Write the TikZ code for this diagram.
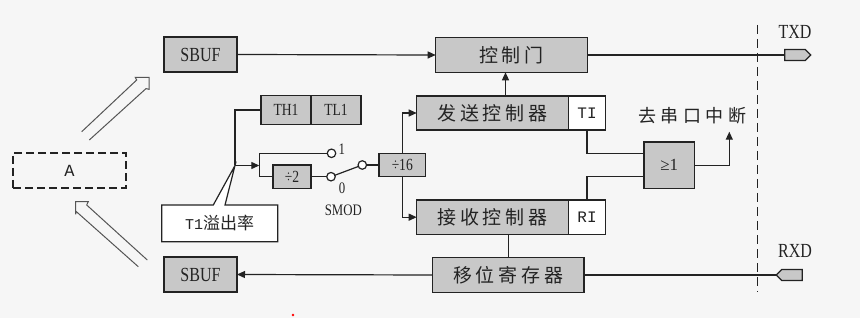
\documentclass[tikz,border=0pt]{standalone}
\usepackage{fontspec}
\setmainfont{Liberation Serif}
\newfontfamily\nar{Liberation Serif}[FakeStretch=0.8]
\newfontfamily\cjk{Noto Sans CJK SC}[LetterSpace=20]
\newfontfamily\cjkw{Noto Sans CJK SC}[LetterSpace=25]
\newfontfamily\cjkc{Noto Sans CJK SC}
\newfontfamily\mono{Liberation Mono}
\usetikzlibrary{arrows.meta,shapes.symbols,calc}
\definecolor{bg}{RGB}{246,246,246}
\definecolor{boxg}{RGB}{200,200,200}
\definecolor{ln}{RGB}{35,35,35}
\definecolor{hol}{RGB}{85,85,85}
\begin{document}
\begin{tikzpicture}[x=1pt,y=-1pt,
  every node/.style={inner sep=0pt,outer sep=0pt,text=ln},
  blk/.style={draw=ln,line width=1.4pt,fill=boxg},
  wblk/.style={draw=ln,line width=1.4pt,fill=white},
  wire/.style={draw=ln,line width=1.2pt},
  tri/.style={-{Triangle[length=8pt,width=7pt]}},
  cn/.style={font=\cjk\fontsize{19}{19}\selectfont},
  sb/.style={font=\nar\fontsize{20}{20}\selectfont},
  sm/.style={font=\nar\fontsize{17}{17}\selectfont},
  sml/.style={font=\nar\fontsize{16}{16}\selectfont},
  mn/.style={font=\mono\fontsize{16}{16}\selectfont},
  sw/.style={circle,draw=ln,line width=1.2pt,fill=white,minimum size=8.5pt},
  hollow/.style={draw=hol,line width=1pt,line join=miter}
]
\fill[bg] (0,0) rectangle (860,318);
\useasboundingbox (0,0) rectangle (860,318);

% hollow arrows
\draw[hollow] (81.7,131.7) -- (136.7,80) -- (135.3,77.3) -- (149,77.3) -- (149,89.3) -- (146,88.6) -- (89.3,140);
\draw[hollow] (138.3,266.7) -- (76.2,211.5) -- (75.7,214.3) -- (75.7,201.7) -- (88.3,201.7) -- (86.7,205) -- (147.3,260);

% dashed boundary
\coordinate (dt) at (757.3,25);
\coordinate (db) at (757.3,292);
\draw[draw=ln,line width=1.4pt,dash pattern=on 9pt off 5pt] (dt) -- (db);

% callout
\coordinate (j1) at (235,165.5);
\coordinate (cnw) at (161.7,205);
\coordinate (cne) at (277.7,205);
\coordinate (cse) at (277.7,241.7);
\coordinate (csw) at (161.7,241.7);
\coordinate (cp1) at (213.3,205);
\coordinate (cp2) at (225,205);
\draw[draw=ln,line width=1.2pt,fill=white,line join=miter] (cnw) -- (cp1) -- (j1) -- (cp2) -- (cne) -- (cse) -- (csw) -- cycle;
\node (callout) at (219.7,223.3) {{\mono\fontsize{15}{15}\selectfont T1}{\cjkc\fontsize{17}{17}\selectfont 溢出率}};

% blocks
\node[blk,sb,minimum width=73pt,minimum height=35pt] (sbufT) at (200.5,54.5) {SBUF};
\node[blk,sb,minimum width=73pt,minimum height=35pt] (sbufB) at (200.5,274.5) {SBUF};
\node[draw=ln,line width=1.4pt,dash pattern=on 8pt off 4pt,font=\mono\fontsize{17}{17}\selectfont,minimum width=113pt,minimum height=35pt] (A) at (69.5,170.5) {A};
\node[blk,sm,minimum width=50pt,minimum height=28.6pt] (th1) at (286,110) {TH1};
\node[blk,sm,minimum width=50pt,minimum height=28.6pt] (tl1) at (336,110) {TL1};
\node[blk,sm,minimum width=38pt,minimum height=23.3pt] (div2) at (292,176.7) {÷2};
\node[blk,sm,minimum width=46.7pt,minimum height=23.4pt] (div16) at (402.3,165) {÷16};
\node[sw] (c1) at (331.5,153.3) {};
\node[sw] (c0) at (331,176.7) {};
\node[sw] (cs) at (362.3,165) {};
\node[sml] (l1) at (341.7,149) {1};
\node[sml] (l0) at (342,188) {0};
\node[sml] (smod) at (343.3,210) {SMOD};
\node[blk,cn,minimum width=151.6pt,minimum height=34.6pt] (ctrl) at (511.5,55) {控制门};
\node[blk,cn,minimum width=151.6pt,minimum height=34pt] (send) at (492.5,113) {发送控制器};
\node[wblk,mn,minimum width=37.4pt,minimum height=34pt] (ti) at (587,113) {TI};
\node[blk,cn,minimum width=151.6pt,minimum height=34.3pt] (recv) at (492.5,217.2) {接收控制器};
\node[wblk,mn,minimum width=37.4pt,minimum height=34.3pt] (ri) at (587,217.2) {RI};
\node[blk,cn,minimum width=151.7pt,minimum height=35.4pt] (shift) at (508.2,275) {移位寄存器};
\node[blk,font=\fontsize{17}{17}\selectfont,minimum width=50.3pt,minimum height=46.3pt] (or) at (669.2,165.2) {≥1};
\node[font=\cjkw\fontsize{18}{18}\selectfont] (irq) at (692,116) {去串口中断};
\node[signal,signal to=east,draw=ln,line width=1.2pt,fill=boxg,minimum width=26pt,minimum height=11pt] (txd) at (795,55) {};
\node[signal,signal to=west,draw=ln,line width=1.2pt,fill=boxg,minimum width=26pt,minimum height=11pt] (rxd) at (792,275) {};
\node[sb] (txdl) at (795,31.7) {TXD};
\node[sb] (rxdl) at (795,250.7) {RXD};

% wires
\coordinate (swt) at (259.3,165.5);
\coordinate (swb) at (259.3,176.7);
\coordinate (irqin) at (729.3,131.7);
\draw[wire] (th1.west) -| (j1);
\draw[wire,tri] (j1) -- (swt);
\draw[wire] (c1.west) -| (swb) -- (div2.west);
\draw[wire] (div2.east) -- (c0.west);
\draw[wire] (c0) -- (cs);
\draw[wire] (cs.east) -- (div16.west);
\draw[wire,tri] (div16.north) |- (send.west);
\draw[wire,tri] (div16.south) |- (recv.west);
\draw[wire,tri] (sbufT.east) -- (ctrl.west);
\draw[wire,tri] ([xshift=13pt]send.north) -- ([xshift=13pt]send.north |- ctrl.south);
\draw[wire] (ctrl.east) -- (txd.west);
\draw[wire] (rxd.west) -- (shift.east);
\draw[wire,tri] (shift.west) -- (sbufB.east);
\draw[wire] (shift.north |- recv.south) -- (shift.north);
\draw[wire] (ti.south) |- ([yshift=12pt]or.west);
\draw[wire] (ri.north) |- ([yshift=-11.5pt]or.west);
\draw[wire,tri] (or.east) -| (irqin);

\fill[red] (293,315) circle (1.3pt);
\end{tikzpicture}
\end{document}
